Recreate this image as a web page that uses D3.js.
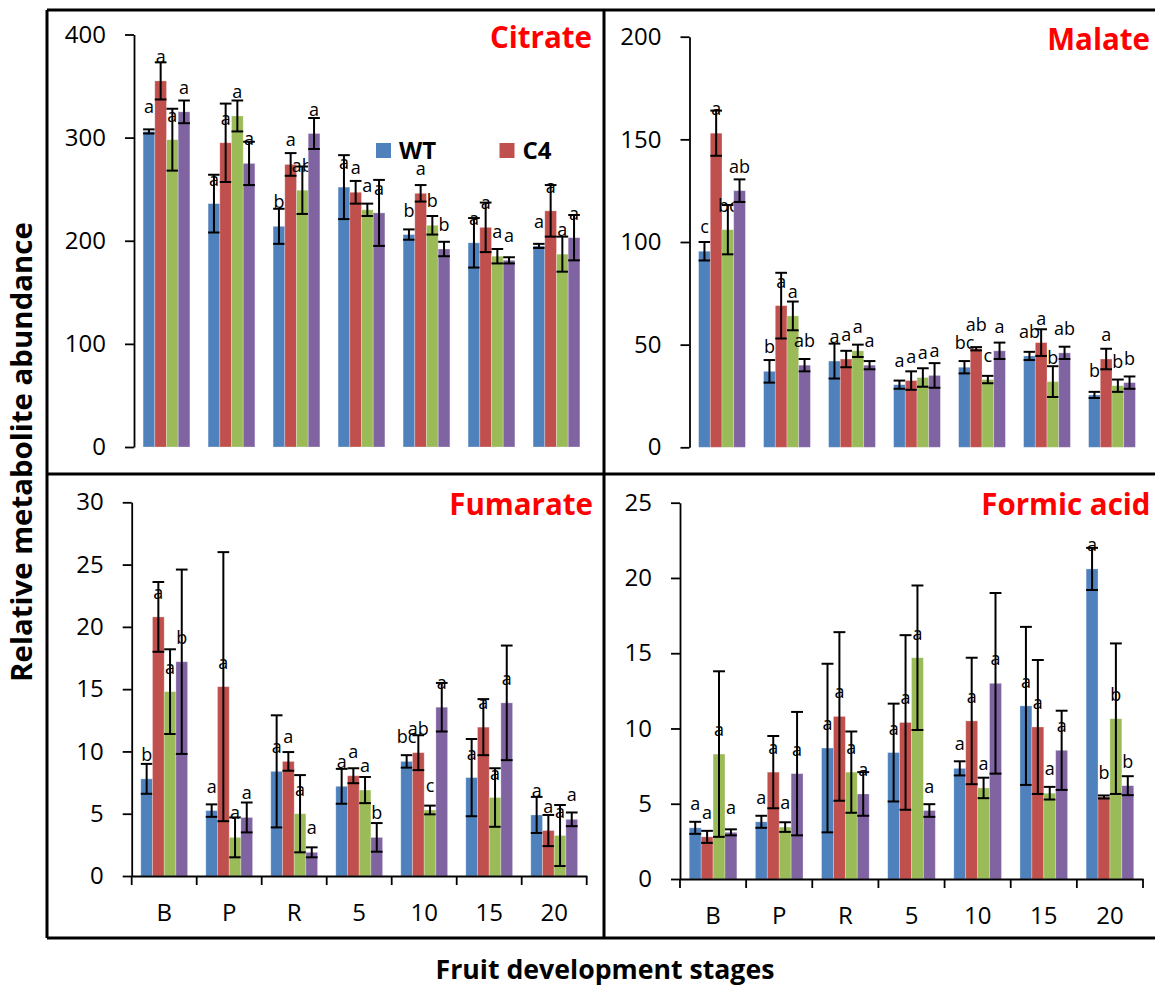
<!DOCTYPE html>
<html>
<head>
<meta charset="utf-8">
<script src="https://cdn.jsdelivr.net/npm/d3@7"></script>
<style>
  html, body { margin: 0; padding: 0; background: #fff; }
  svg { display: block; font-family: "Open Sans", sans-serif; }
</style>
</head>
<body>
<svg id="chart" width="1155" height="989"></svg>
<script>
// ---- data -------------------------------------------------------------
const stages = ["B", "P", "R", "5", "10", "15", "20"];
const seriesNames = ["WT", "C4", "line 3", "line 4"];
const seriesColors = ["#4F81BD", "#C0504D", "#9BBB59", "#8064A2"];
const legendSeries = ["WT", "C4"];

// rows: WT, C4, line 3, line 4 ; columns follow `stages`
const citrateMeans = [
  [306, 236, 214, 252, 206, 198, 195],
  [355, 295, 274, 247, 246, 213, 229],
  [298, 321, 249, 230, 215, 185, 187],
  [325, 275, 304, 227, 192, 181, 203]
];
const citrateErrors = [
  [2, 28, 17, 31, 5, 24, 2],
  [18, 38, 11, 11, 8, 24, 25],
  [30, 15, 23, 6, 9, 7, 17],
  [11, 21, 15, 32, 7, 3, 22]
];
const citrateLetters = [
  ["a", "a", "b", "a", "b", "a", "a"],
  ["a", "a", "a", "a", "a", "a", "a"],
  ["a", "a", "ab", "a", "b", "a", "a"],
  ["a", "a", "a", "a", "b", "a", "a"]
];
const citrateTicks = [0, 100, 200, 300, 400];

const malateMeans = [
  [95.5, 37, 42, 30.5, 39, 44.5, 25.5],
  [153, 69, 43, 32.5, 48, 51, 43],
  [106, 64, 47, 34, 33, 32, 30],
  [125, 40, 40, 35, 47, 46, 31.5]
];
const malateErrors = [
  [4.5, 5.5, 8.5, 2, 3, 2, 1.5],
  [11, 16, 4, 4.5, 0.8, 6.5, 5],
  [12, 7, 3, 4.5, 1.8, 7.5, 3],
  [5.5, 3, 2, 6, 4, 3, 3]
];
const malateLetters = [
  ["c", "b", "a", "a", "bc", "ab", "b"],
  ["a", "a", "a", "a", "ab", "a", "a"],
  ["bc", "a", "a", "a", "c", "b", "b"],
  ["ab", "ab", "a", "a", "a", "ab", "b"]
];
const malateTicks = [0, 50, 100, 150, 200];

const fumarateMeans = [
  [7.8, 5.25, 8.4, 7.2, 9.2, 7.9, 4.9],
  [20.8, 15.2, 9.2, 8.05, 9.9, 11.95, 3.65],
  [14.8, 3.1, 5.0, 6.9, 5.3, 6.3, 3.25],
  [17.2, 4.7, 1.9, 3.1, 13.55, 13.9, 4.55]
];
const fumarateErrors = [
  [1.2, 0.5, 4.5, 1.4, 0.5, 3.1, 1.45],
  [2.8, 10.8, 0.75, 0.6, 1.4, 2.25, 1.25],
  [3.4, 1.6, 3.1, 1.05, 0.35, 2.35, 2.45],
  [7.4, 1.2, 0.4, 1.15, 1.95, 4.6, 0.55]
];
const fumarateLetters = [
  ["b", "a", "a", "a", "bc", "a", "a"],
  ["a", "a", "a", "a", "ab", "a", "a"],
  ["a", "a", "a", "a", "c", "a", "a"],
  ["b", "a", "a", "b", "a", "a", "a"]
];
const fumarateTicks = [0, 5, 10, 15, 20, 25, 30];

const formicMeans = [
  [3.4, 3.8, 8.7, 8.4, 7.35, 11.5, 20.6],
  [2.8, 7.1, 10.8, 10.4, 10.5, 10.1, 5.45],
  [8.3, 3.45, 7.1, 14.7, 6.05, 5.7, 10.65],
  [3.1, 7.0, 5.65, 4.55, 13.0, 8.55, 6.2]
];
const formicErrors = [
  [0.4, 0.4, 5.6, 3.25, 0.47, 5.25, 1.4],
  [0.4, 2.4, 5.6, 5.8, 4.2, 4.45, 0.1],
  [5.5, 0.32, 2.7, 4.8, 0.68, 0.42, 5.0],
  [0.2, 4.1, 1.45, 0.42, 6.0, 2.63, 0.63]
];
const formicLetters = [
  ["a", "a", "a", "a", "a", "a", "a"],
  ["a", "a", "a", "a", "a", "a", "b"],
  ["a", "a", "a", "a", "a", "a", "b"],
  ["a", "a", "a", "a", "a", "a", "b"]
];
const formicTicks = [0, 5, 10, 15, 20, 25];

// ---- layout -----------------------------------------------------------
const panels = [
  { title: "Citrate", means: citrateMeans, errors: citrateErrors, letters: citrateLetters,
    ticks: citrateTicks, xRange: [134, 589], yRange: [447, 34.5], xAxis: false,
    titleX: 592, titleY: 48 },
  { title: "Malate", means: malateMeans, errors: malateErrors, letters: malateLetters,
    ticks: malateTicks, xRange: [689.5, 1144.5], yRange: [447.3, 36.7], xAxis: false,
    titleX: 1150, titleY: 50 },
  { title: "Fumarate", means: fumarateMeans, errors: fumarateErrors, letters: fumarateLetters,
    ticks: fumarateTicks, xRange: [131.7, 586.7], yRange: [876, 502.3], xAxis: true,
    titleX: 593, titleY: 515 },
  { title: "Formic acid", means: formicMeans, errors: formicErrors, letters: formicLetters,
    ticks: formicTicks, xRange: [680, 1143], yRange: [879, 502.7], xAxis: true,
    titleX: 1150.5, titleY: 515 }
];

const svg = d3.select("#chart");

// outer frame and the dividers between the four panels
const frame = svg.append("g").attr("stroke", "#000").attr("stroke-width", 3);
frame.append("line").attr("x1", 47).attr("x2", 1160).attr("y1", 10).attr("y2", 10);
frame.append("line").attr("x1", 47).attr("x2", 1160).attr("y1", 938).attr("y2", 938);
frame.append("line").attr("x1", 47).attr("x2", 47).attr("y1", 10).attr("y2", 938);
frame.append("line").attr("x1", 604).attr("x2", 604).attr("y1", 10).attr("y2", 938);
frame.append("line").attr("x1", 47).attr("x2", 1160).attr("y1", 474).attr("y2", 474);

panels.forEach(p => {
  const g = svg.append("g");
  const x = d3.scaleBand().domain(stages).range(p.xRange)
    .paddingInner(0.28).paddingOuter(0.14);
  const xs = d3.scaleBand().domain(d3.range(seriesNames.length)).range([0, x.bandwidth()]);
  const y = d3.scaleLinear().domain([p.ticks[0], p.ticks[p.ticks.length - 1]]).range(p.yRange);
  const bw = xs.bandwidth();

  // bars, error bars and significance letters for every series
  seriesNames.forEach((name, si) => {
    const rows = stages.map((s, ci) => ({
      stage: s, v: p.means[si][ci], e: p.errors[si][ci], t: p.letters[si][ci]
    }));
    const sg = g.append("g");
    sg.selectAll("rect").data(rows).join("rect")
      .attr("x", d => x(d.stage) + xs(si))
      .attr("y", d => y(d.v))
      .attr("width", bw)
      .attr("height", d => y(0) - y(d.v))
      .attr("fill", seriesColors[si])
      .attr("stroke", "#fff").attr("stroke-opacity", 0.35).attr("stroke-width", 0.8);

    const eg = sg.selectAll("g.err").data(rows).join("g").attr("class", "err")
      .attr("stroke", "#000").attr("stroke-width", 2);
    const cx = d => x(d.stage) + xs(si) + bw / 2;
    eg.append("line").attr("x1", cx).attr("x2", cx)
      .attr("y1", d => y(d.v + d.e)).attr("y2", d => y(d.v - d.e));
    eg.append("line").attr("x1", d => cx(d) - bw / 2).attr("x2", d => cx(d) + bw / 2)
      .attr("y1", d => y(d.v + d.e)).attr("y2", d => y(d.v + d.e));
    eg.append("line").attr("x1", d => cx(d) - bw / 2).attr("x2", d => cx(d) + bw / 2)
      .attr("y1", d => y(d.v - d.e)).attr("y2", d => y(d.v - d.e));

    sg.selectAll("text").data(rows).join("text")
      .attr("x", cx)
      .attr("y", d => y(d.v) - 18)
      .attr("text-anchor", "middle")
      .attr("font-size", 18)
      .attr("fill", "#000")
      .text(d => d.t);
  });

  // value axis
  const ya = g.append("g").attr("transform", `translate(${p.xRange[0]},0)`)
    .call(d3.axisLeft(y).tickValues(p.ticks).tickSize(9).tickSizeOuter(0).tickPadding(19));
  ya.select(".domain").attr("stroke", "#000").attr("stroke-width", 1.8);
  ya.selectAll(".tick line").attr("stroke", "#000").attr("stroke-width", 1.8);
  ya.selectAll(".tick text").attr("font-size", 24).attr("fill", "#000")
    .attr("font-family", "Open Sans, sans-serif");

  // category axis (bottom row only), ticks between categories
  if (p.xAxis) {
    const y0 = y(0);
    const xa = g.append("g").attr("transform", `translate(0,${y0})`)
      .call(d3.axisBottom(x).tickSize(0).tickSizeOuter(0).tickPadding(28));
    xa.select(".domain").attr("stroke", "#000").attr("stroke-width", 1.8);
    xa.selectAll(".tick text").attr("font-size", 24).attr("fill", "#000")
      .attr("font-family", "Open Sans, sans-serif");
    const bounds = stages.map(s => x(s) - x.step() * x.paddingInner() / 2)
      .concat([p.xRange[1]]);
    g.append("g").selectAll("line").data(bounds).join("line")
      .attr("x1", d => d).attr("x2", d => d)
      .attr("y1", y0).attr("y2", y0 + 9)
      .attr("stroke", "#000").attr("stroke-width", 1.8);
  }

  // panel title
  g.append("text")
    .attr("x", p.titleX).attr("y", p.titleY)
    .attr("text-anchor", "end")
    .attr("font-size", 29.5).attr("font-weight", "bold")
    .attr("fill", "#FF0000")
    .text(p.title);
});

// legend
const legend = svg.append("g");
const legendX = [376, 499.5];
legendSeries.forEach((name, i) => {
  const si = seriesNames.indexOf(name);
  legend.append("rect").attr("x", legendX[i]).attr("y", 143)
    .attr("width", 15).attr("height", 15).attr("fill", seriesColors[si]);
  legend.append("text").attr("x", legendX[i] + 23).attr("y", 158.5)
    .attr("font-size", 24).attr("font-weight", "bold").attr("fill", "#000")
    .text(name);
});

// shared axis titles, sized to their span
function fitWidth(sel, target) {
  const base = 24;
  sel.attr("font-size", base);
  const len = sel.node().getComputedTextLength();
  sel.attr("font-size", base * target / len);
}
const yTitle = svg.append("text")
  .attr("transform", "translate(32,452) rotate(-90)")
  .attr("text-anchor", "middle").attr("font-weight", "bold").attr("fill", "#000")
  .text("Relative metabolite abundance");
fitWidth(yTitle, 460);
const xTitle = svg.append("text")
  .attr("x", 605).attr("y", 979)
  .attr("text-anchor", "middle").attr("font-weight", "bold").attr("fill", "#000")
  .text("Fruit development stages");
fitWidth(xTitle, 339);
</script>
</body>
</html>
